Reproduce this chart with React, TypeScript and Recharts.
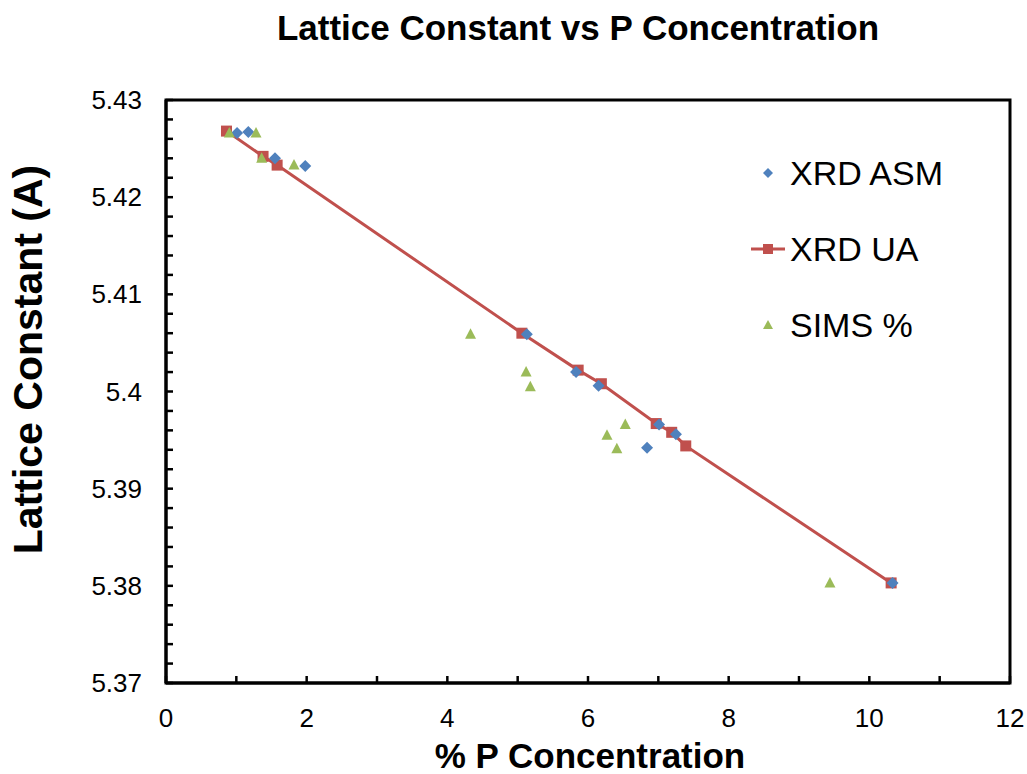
import React from 'react';
import { ScatterChart, Scatter, XAxis, YAxis, ReferenceArea, Legend, Label } from 'recharts';

const chartTitle = 'Lattice Constant vs P Concentration';
const xAxisTitle = '% P Concentration';
const yAxisTitle = 'Lattice Constant (A)';

const xrdAsm = [
  { x: 1.01, y: 5.4266 }, { x: 1.17, y: 5.4267 }, { x: 1.55, y: 5.424 }, { x: 1.98, y: 5.4232 },
  { x: 5.13, y: 5.4059 }, { x: 5.83, y: 5.402 }, { x: 6.15, y: 5.4006 }, { x: 6.84, y: 5.3942 },
  { x: 7.01, y: 5.3966 }, { x: 7.25, y: 5.3956 }, { x: 10.33, y: 5.3803 },
];
const xrdUa = [
  { x: 0.86, y: 5.4268 }, { x: 1.38, y: 5.4242 }, { x: 1.58, y: 5.4233 }, { x: 5.06, y: 5.406 },
  { x: 5.86, y: 5.4022 }, { x: 6.19, y: 5.4008 }, { x: 6.97, y: 5.3967 }, { x: 7.19, y: 5.3958 },
  { x: 7.39, y: 5.3944 }, { x: 10.31, y: 5.3803 },
];
const sims = [
  { x: 0.9, y: 5.4266 }, { x: 1.28, y: 5.4266 }, { x: 1.36, y: 5.424 }, { x: 1.82, y: 5.4233 },
  { x: 4.33, y: 5.4059 }, { x: 5.12, y: 5.402 }, { x: 5.18, y: 5.4005 }, { x: 6.27, y: 5.3955 },
  { x: 6.41, y: 5.3941 }, { x: 6.53, y: 5.3966 }, { x: 9.44, y: 5.3803 },
];

const seriesNames = ['XRD ASM', 'XRD UA', 'SIMS %'];
const seriesColors = ['#4F81BD', '#C0504D', '#9BBB59'];

const xTicks = [0, 1, 2, 3, 4, 5, 6, 7, 8, 9, 10, 11, 12];
const xLabelTicks = [0, 2, 4, 6, 8, 10, 12];
const yMajorTicks = [5.37, 5.38, 5.39, 5.4, 5.41, 5.42, 5.43];
const yMinorTicks = [
  5.37, 5.372, 5.374, 5.376, 5.378, 5.38, 5.382, 5.384, 5.386, 5.388,
  5.39, 5.392, 5.394, 5.396, 5.398, 5.4, 5.402, 5.404, 5.406, 5.408,
  5.41, 5.412, 5.414, 5.416, 5.418, 5.42, 5.422, 5.424, 5.426, 5.428, 5.43,
];

const FONT = '"Liberation Sans", Arial, sans-serif';

const Diamond = (p: any) => {
  const { cx, cy } = p;
  if (cx == null || cy == null) return null;
  const s = 6;
  return <path d={`M${cx},${cy - s}L${cx + s},${cy}L${cx},${cy + s}L${cx - s},${cy}Z`} fill={seriesColors[0]} />;
};
const Square = (p: any) => {
  const { cx, cy } = p;
  if (cx == null || cy == null) return null;
  return <rect x={cx - 5.5} y={cy - 5.5} width={11} height={11} fill={seriesColors[1]} />;
};
const Triangle = (p: any) => {
  const { cx, cy } = p;
  if (cx == null || cy == null) return null;
  return <path d={`M${cx},${cy - 6}L${cx + 5.5},${cy + 4.5}L${cx - 5.5},${cy + 4.5}Z`} fill={seriesColors[2]} />;
};

const YTick = (props: any) => {
  const { x, y, payload } = props;
  const v = payload.value;
  const major = yMajorTicks.some((t) => Math.abs(t - v) < 1e-7);
  return (
    <g>
      <line x1={x} x2={x + 7} y1={y} y2={y} stroke="#000" strokeWidth={2.5} />
      {major && (
        <text x={x - 24} y={y + 9} textAnchor="end" fontSize={26} fontFamily={FONT} fill="#000">
          {String(v)}
        </text>
      )}
    </g>
  );
};

const XTick = (props: any) => {
  const { x, y, payload } = props;
  const v = payload.value;
  const labeled = xLabelTicks.includes(v);
  return (
    <g>
      <line x1={x} x2={x} y1={y} y2={y - 7} stroke="#000" strokeWidth={2.5} />
      {labeled && (
        <text x={x} y={y + 44} textAnchor="middle" fontSize={26} fontFamily={FONT} fill="#000">
          {String(v)}
        </text>
      )}
    </g>
  );
};

const LegendMarker = ({ i }: { i: number }) => {
  const c = seriesColors[i];
  return (
    <svg width={40} height={20} style={{ display: 'block' }}>
      {i === 0 && <path d="M20,5L25,10L20,15L15,10Z" fill={c} />}
      {i === 1 && (
        <g>
          <line x1={3} x2={37} y1={10} y2={10} stroke={c} strokeWidth={3} />
          <rect x={15} y={5} width={10} height={10} fill={c} />
        </g>
      )}
      {i === 2 && <path d="M20,5L25,14L15,14Z" fill={c} />}
    </svg>
  );
};

const LegendContent = () => (
  <div style={{ fontFamily: FONT, fontSize: 34, color: '#000' }}>
    {seriesNames.map((n, i) => (
      <div key={n} style={{ display: 'flex', alignItems: 'center', height: 76 }}>
        <LegendMarker i={i} />
        <span style={{ marginLeft: 2, lineHeight: '34px' }}>{n}</span>
      </div>
    ))}
  </div>
);

export default function App() {
  return (
    <div style={{ position: 'absolute', left: 0, top: 0, width: 1027, height: 774, background: '#fff' }}>
      <div
        style={{
          position: 'absolute', left: 78, top: 11, width: 1000, textAlign: 'center',
          fontFamily: FONT, fontWeight: 'bold', fontSize: 35, lineHeight: '34px', color: '#000',
        }}
      >
        {chartTitle}
      </div>
      <ScatterChart width={1027} height={774} margin={{ top: 100, right: 17, left: 0, bottom: 0 }}>
        <XAxis
          type="number"
          dataKey="x"
          domain={[0, 12]}
          ticks={xTicks}
          interval={0}
          allowDataOverflow
          height={91}
          tickSize={0}
          tickMargin={0}
          tickLine={false}
          axisLine={{ stroke: '#000', strokeWidth: 3 }}
          tick={<XTick />}
        >
          <Label
            content={(p: any) => {
              const vb = p.viewBox;
              return (
                <text x={vb.x + vb.width / 2 + 2} y={vb.y + 85} textAnchor="middle" fontSize={35} fontWeight="bold" fontFamily={FONT} fill="#000">
                  {xAxisTitle}
                </text>
              );
            }}
          />
        </XAxis>
        <YAxis
          type="number"
          dataKey="y"
          domain={[5.37, 5.43]}
          ticks={yMinorTicks}
          interval={0}
          allowDataOverflow
          width={166}
          tickSize={0}
          tickMargin={0}
          tickLine={false}
          axisLine={{ stroke: '#000', strokeWidth: 3 }}
          tick={<YTick />}
        >
          <Label
            content={(p: any) => {
              const vb = p.viewBox;
              const cx = vb.x + 42;
              const cy = vb.y + vb.height / 2 - 32;
              return (
                <text x={cx} y={cy} transform={`rotate(-90, ${cx}, ${cy})`} textAnchor="middle" fontSize={41} fontWeight="bold" fontFamily={FONT} fill="#000">
                  {yAxisTitle}
                </text>
              );
            }}
          />
        </YAxis>
        <ReferenceArea x1={0} x2={12} y1={5.37} y2={5.43} fill="none" stroke="#000" strokeWidth={3} ifOverflow="visible" />
        <Legend
          layout="horizontal"
          verticalAlign="middle"
          align="center"
          wrapperStyle={{ left: 748, top: 135, width: 240 }}
          content={() => <LegendContent />}
        />
        <Scatter
          name={seriesNames[1]}
          data={xrdUa}
          fill={seriesColors[1]}
          line={{ stroke: seriesColors[1], strokeWidth: 3 }}
          lineType="joint"
          shape={<Square />}
          isAnimationActive={false}
        />
        <Scatter name={seriesNames[0]} data={xrdAsm} fill={seriesColors[0]} shape={<Diamond />} isAnimationActive={false} />
        <Scatter name={seriesNames[2]} data={sims} fill={seriesColors[2]} shape={<Triangle />} isAnimationActive={false} />
      </ScatterChart>
    </div>
  );
}
